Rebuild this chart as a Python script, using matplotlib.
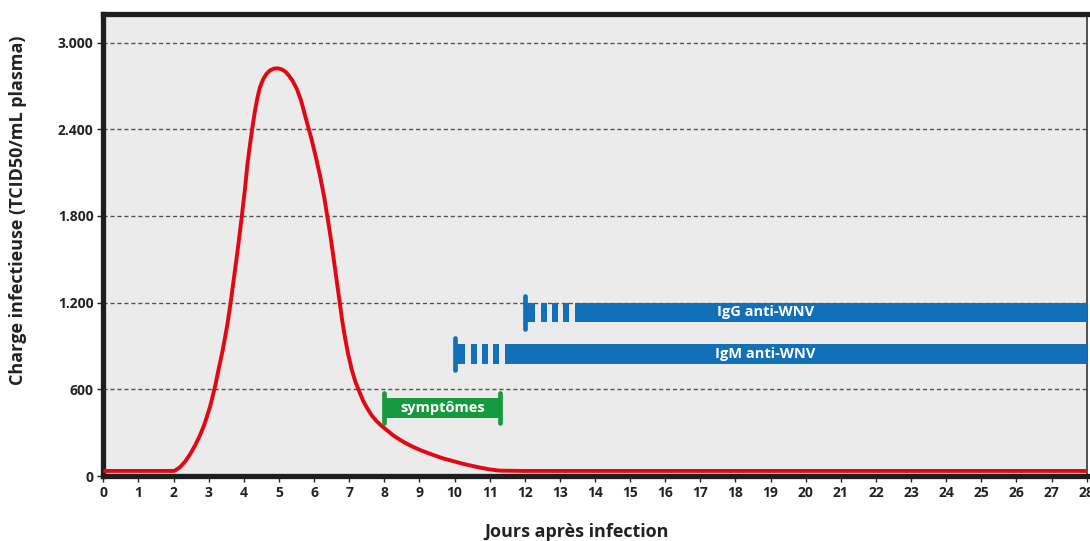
import numpy as np
import matplotlib.pyplot as plt

plt.rcParams['font.family'] = ['Open Sans', 'DejaVu Sans']
plt.rcParams['font.weight'] = 'bold'

# viral load curve
days = [0, 1, 2, 2.04, 2.18, 2.33, 2.47, 2.61, 2.74, 2.86, 2.95, 3.04, 3.11, 3.18, 3.25,
        3.32, 3.40, 3.47, 3.53, 3.58, 3.64, 3.70, 3.78, 3.86, 3.94, 4.03, 4.10, 4.18,
        4.25, 4.32, 4.39, 4.46, 4.55, 4.65, 4.75, 4.86, 4.97, 5.08, 5.18, 5.27, 5.39,
        5.51, 5.63, 5.74, 5.83, 5.93, 6.05, 6.17, 6.29, 6.41, 6.48, 6.55, 6.63, 6.72,
        6.80, 6.88, 6.97, 7.07, 7.18, 7.31, 7.40, 7.50, 7.64, 7.78, 7.92, 8.07, 8.25,
        8.45, 8.65, 8.85, 9.1, 9.4, 9.7, 10.02, 10.25, 10.5, 10.75, 11.0, 11.15,
        11.3, 12, 28]
charge = [35, 35, 35, 37, 60, 100, 150, 210, 275, 345, 410, 480, 548, 618, 700,
          780, 872, 964, 1045, 1126, 1225, 1334, 1480, 1630, 1790, 1980, 2150, 2300,
          2420, 2530, 2620, 2690, 2745, 2785, 2808, 2820, 2822, 2815, 2800, 2776, 2735,
          2680, 2600, 2500, 2420, 2330, 2210, 2080, 1930, 1750, 1640, 1520, 1380, 1220,
          1080, 960, 845, 740, 650, 572, 520, 475, 420, 380, 348, 318, 282,
          250, 222, 198, 172, 145, 120, 99, 84, 70, 57, 46, 41,
          37, 35, 35]

yticks = [0, 600, 1200, 1800, 2400, 3000]
yticklabels = ['0', '600', '1.200', '1.800', '2.400', '3.000']

# antibodies: label, first day, level
ab_labels = ['IgG anti-WNV', 'IgM anti-WNV']
ab_start = [12, 10]
ab_level = [1132, 846]
ab_height = 136

# symptoms window
sym_start, sym_end, sym_level = 8.0, 11.3, 471

blue = '#1170b8'
green = '#179a3f'
red = '#e30613'

fig = plt.figure(figsize=(10.9, 5.41), dpi=100)
ax = fig.add_axes([103.3 / 1090, 1 - 476 / 541, (1086.7 - 103.3) / 1090, (476 - 14) / 541])
ax.set_facecolor('#ebebeb')
ax.set_xlim(0, 28)
ax.set_ylim(0, 3198)

for y in yticks[1:]:
    ax.axhline(y, color='#555555', lw=1, ls=(0, (3, 2)), zorder=1)

ax.plot(days, charge, color=red, lw=2.8, zorder=3, solid_joinstyle='round',
        solid_capstyle='butt')

# antibody bars
for lab, s, lv in zip(ab_labels, ab_start, ab_level):
    ax.plot([s, s], [lv - 112, lv + 112], color=blue, lw=3.4, solid_capstyle='round', zorder=4)
    ax.barh(lv, 0.29, left=s, height=ab_height, color=blue, zorder=4)
    for k in range(3):
        ax.barh(lv, 0.16, left=s + 0.47 + 0.315 * k, height=ab_height, color=blue, zorder=4)
    ax.barh(lv, 30 - (s + 1.43), left=s + 1.43, height=ab_height, color=blue, zorder=4)
    ax.text(18.85, lv, lab, color='white', fontsize=10.5, fontweight='bold',
            ha='center', va='center', zorder=5)

# symptoms bracket
ax.barh(sym_level, sym_end - sym_start, left=sym_start, height=138, color=green, zorder=4)
for x in (sym_start, sym_end):
    ax.plot([x, x], [sym_level - 105, sym_level + 105], color=green, lw=3.4,
            solid_capstyle='round', zorder=4)
ax.text((sym_start + sym_end) / 2, sym_level, 'symptômes', color='white', fontsize=10.5,
        fontweight='bold', ha='center', va='center', zorder=5)

ax.set_yticks(yticks)
ax.set_yticklabels(yticklabels)
ax.set_xticks(range(0, 29))
ax.tick_params(axis='both', labelsize=10, colors='#222222', length=4, width=1, pad=3)

for side in ('left', 'bottom', 'top'):
    ax.spines[side].set_linewidth(3.8)
    ax.spines[side].set_color('#1e1e1e')
ax.spines['right'].set_linewidth(1.2)
ax.spines['right'].set_color('#333333')

ax.set_ylabel('Charge infectieuse (TCID50/mL plasma)', fontsize=13, fontweight='bold',
              color='#222222', va='center')
ax.yaxis.set_label_coords(-0.0867, 0.576)
ax.set_xlabel('Jours après infection', fontsize=13, fontweight='bold', color='#222222',
              va='center')
ax.xaxis.set_label_coords(0.481, -0.121)

fig.savefig('out.png', dpi=100)
